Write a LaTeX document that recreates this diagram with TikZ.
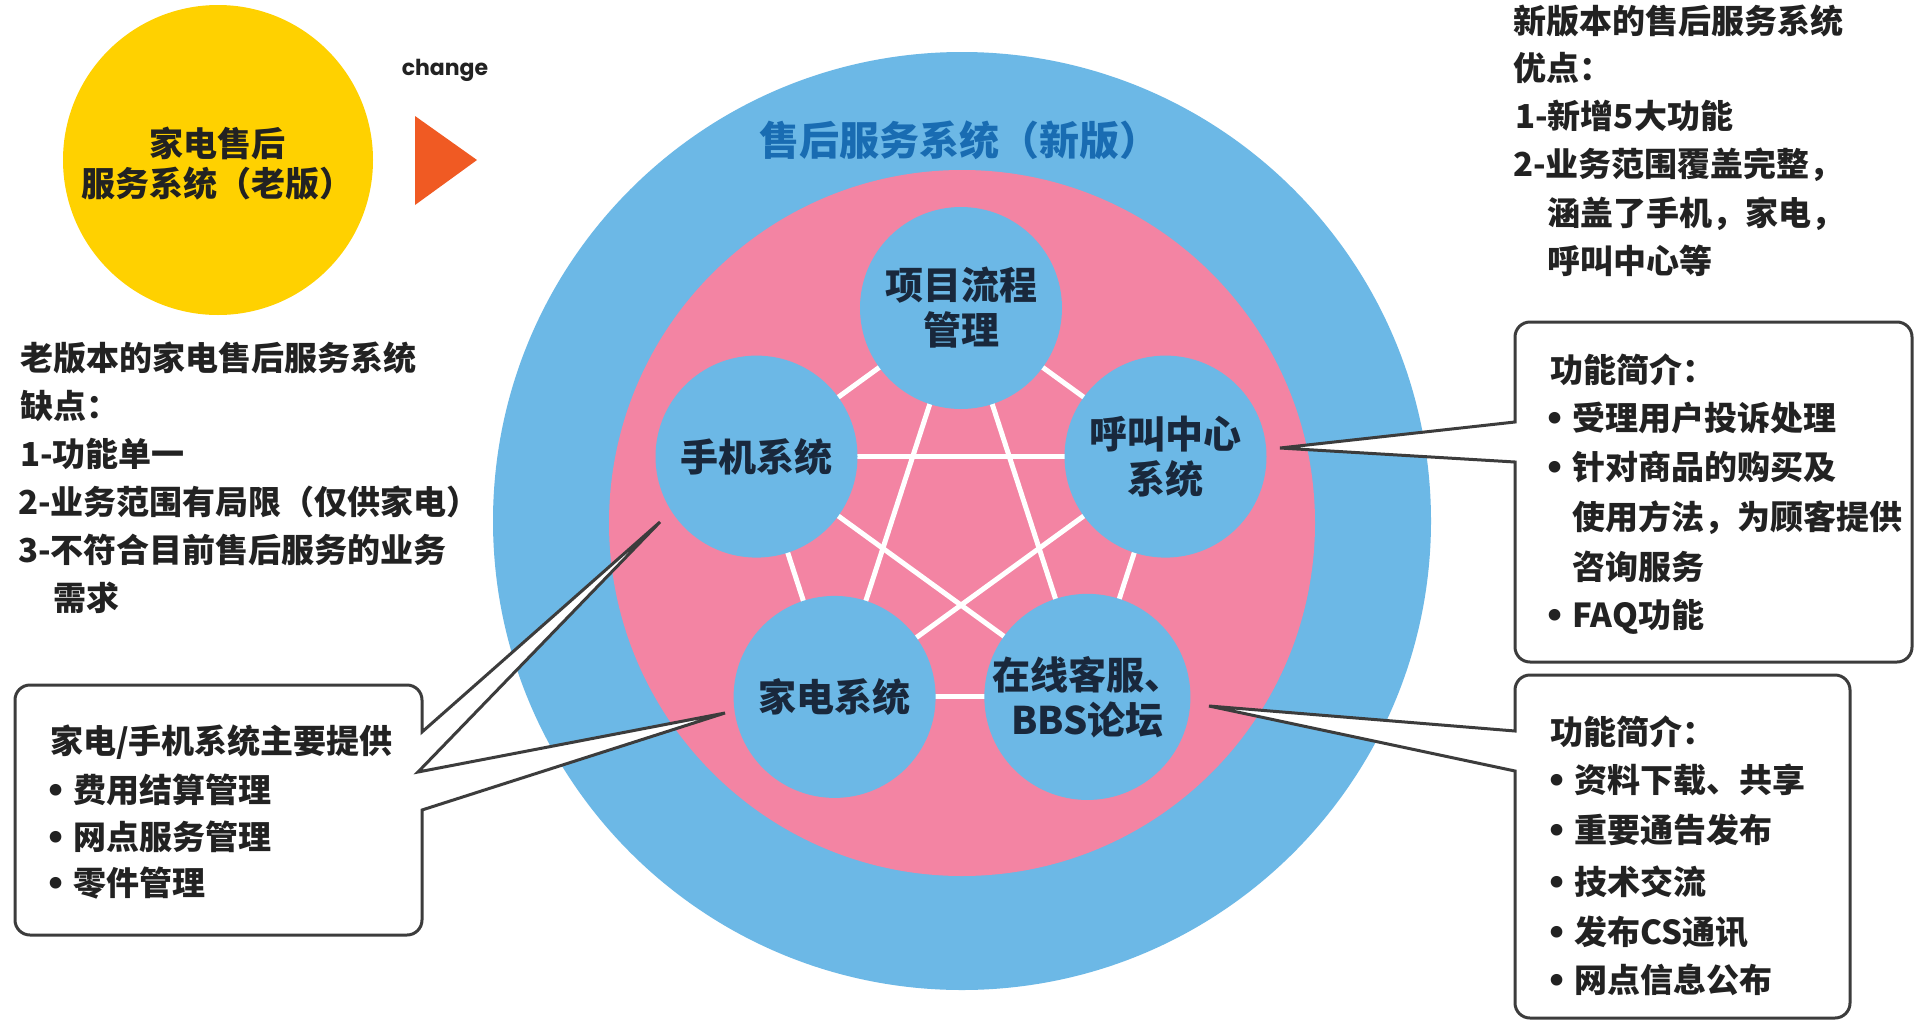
\documentclass[tikz,border=0pt]{standalone}
\usepackage{fontspec}
\setmainfont{Noto Sans CJK SC}
\newfontfamily\chfont{Poppins}
\newfontfamily\latinf{DejaVu Sans}
\definecolor{yellowc}{RGB}{255,209,0}
\definecolor{orangec}{RGB}{240,90,35}
\definecolor{bluec}{RGB}{108,184,230}
\definecolor{pinkc}{RGB}{243,132,163}
\definecolor{titleblue}{RGB}{25,108,178}
\definecolor{navy}{RGB}{25,40,60}
\definecolor{textc}{RGB}{34,34,34}
\definecolor{linec}{RGB}{60,60,60}
\newcommand\bul{\makebox[28pt][l]{\latinf •}}
\begin{document}
\begin{tikzpicture}[x=1pt,y=-1pt,
  txt/.style={anchor=west, inner sep=0pt, font=\fontsize{33}{40}\selectfont\bfseries, text=textc},
  sub/.style={circle, fill=bluec, minimum size=202pt, inner sep=0pt, align=center,
              font=\fontsize{38}{45}\selectfont\bfseries, text=navy},
  wline/.style={white, line width=5pt},
  callout/.style={draw=linec, line width=3pt, fill=white, line join=miter}]
\useasboundingbox (0,0) rectangle (1915,1023);
\fill[white] (0,0) rectangle (1915,1023);

% old system
\node[circle, fill=yellowc, minimum size=310pt, inner sep=0pt] (old) at (218,160) {};
\node[align=center, inner sep=0pt, font=\fontsize{34}{40}\selectfont\bfseries, text=textc] (oldtxt) at (217,164) {家电售后\\服务系统（老版）};
\node[inner sep=0pt, font=\chfont\fontsize{22}{26}\selectfont\bfseries, text=textc] (chg) at (445,70) {change};
\fill[orangec] (415,116) -- (477,160) -- (415,205) -- cycle;

% new system rings
\node[circle, fill=bluec, minimum size=938pt, inner sep=0pt] (outer) at (962,521) {};
\node[circle, fill=pinkc, minimum size=706pt, inner sep=0pt] (inner) at (962,523) {};
\node[inner sep=0pt, font=\fontsize{40}{46}\selectfont\bfseries, text=titleblue] (title) at (959,140) {售后服务系统（新版）};

% pentagon
\coordinate (p1) at (961,308);
\coordinate (p2) at (1165.5,456.6);
\coordinate (p3) at (1087.4,696.9);
\coordinate (p4) at (834.6,696.9);
\coordinate (p5) at (756.5,456.6);
\foreach \a/\b in {p1/p2,p2/p3,p3/p4,p4/p5,p5/p1,p1/p3,p1/p4,p2/p4,p2/p5,p3/p5}
  \draw[wline] (\a) -- (\b);
\node[sub] (n1) at (p1) {项目流程\\管理};
\node[sub] (n2) at (p2) {呼叫中心\\系统};
\node[sub] (n3) at (p3) {在线客服、\\BBS论坛};
\node[sub] (n4) at (p4) {家电系统};
\node[sub] (n5) at (p5) {手机系统};

% callout tips
\coordinate (tipA) at (660,522);
\coordinate (tipB) at (725,713);
\coordinate (tip1) at (1280,448);
\coordinate (tip2) at (1209,706);

% left callout
\draw[callout] (15,760) [rounded corners=15pt] -- (15,685) -- (422,685) -- (422,715) [sharp corners] -- (422,732) -- (tipA) -- (418,772) -- (tipB) -- (422,810) -- (422,830) [rounded corners=15pt] -- (422,935) -- (15,935) -- cycle;
% right callout 1
\draw[callout] (1700,322) [rounded corners=15pt] -- (1912,322) -- (1912,662) -- (1515,662) -- (1515,520) [sharp corners] -- (1515,462) -- (tip1) -- (1515,422) -- (1515,380) [rounded corners=15pt] -- (1515,322) -- cycle;
% right callout 2
\draw[callout] (1700,675) [rounded corners=15pt] -- (1850,675) -- (1850,1018) -- (1515,1018) -- (1515,820) [sharp corners] -- (1515,771) -- (tip2) -- (1515,731) -- (1515,710) [rounded corners=15pt] -- (1515,675) -- cycle;

% left text block
\node[txt] (l1) at (20,358) {老版本的家电售后服务系统};
\node[txt] (l2) at (20,406) {缺点：};
\node[txt] (l3) at (20,454) {1-功能单一};
\node[txt] (l4) at (18,502) {2-业务范围有局限（仅供家电）};
\node[txt] (l5) at (18,550) {3-不符合目前售后服务的业务};
\node[txt] (l6) at (53,598) {需求};

% right text block
\node[txt] (r1) at (1513,21) {新版本的售后服务系统};
\node[txt] (r2) at (1513,68) {优点：};
\node[txt] (r3) at (1515,116) {1-新增5大功能};
\node[txt] (r4) at (1513,165) {2-业务范围覆盖完整，};
\node[txt] (r5) at (1547,214) {涵盖了手机，家电，};
\node[txt] (r6) at (1547,261) {呼叫中心等};

% left box text
\node[txt] (b1) at (50,742) {家电/手机系统主要提供};
\node[txt] (b2) at (45,790) {\bul 费用结算管理};
\node[txt] (b3) at (45,837) {\bul 网点服务管理};
\node[txt] (b4) at (45,883) {\bul 零件管理};

% box 1 text
\node[txt] (c1) at (1550,370) {功能简介：};
\node[txt] (c2) at (1544,418) {\bul 受理用户投诉处理};
\node[txt] (c3) at (1544,467) {\bul 针对商品的购买及};
\node[txt] (c4) at (1572,518) {使用方法，为顾客提供};
\node[txt] (c5) at (1572,567) {咨询服务};
\node[txt] (c6) at (1544,617) {\bul FAQ功能};

% box 2 text
\node[txt] (d1) at (1550,732) {功能简介：};
\node[txt] (d2) at (1546,780) {\bul 资料下载、共享};
\node[txt] (d3) at (1546,830) {\bul 重要通告发布};
\node[txt] (d4) at (1546,882) {\bul 技术交流};
\node[txt] (d5) at (1546,932) {\bul 发布CS通讯};
\node[txt] (d6) at (1546,980) {\bul 网点信息公布};
\end{tikzpicture}
\end{document}
